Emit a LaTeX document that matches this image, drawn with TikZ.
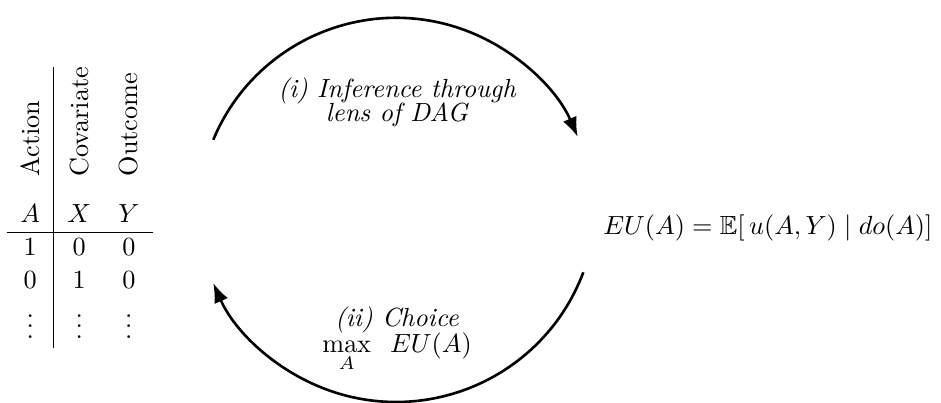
\documentclass[tikz,border=0pt]{standalone}
\usepackage{tikz}
\usepackage{amsmath,amssymb}
\usepackage{graphicx}
\usetikzlibrary{arrows.meta}

\begin{document}
\begin{tikzpicture}[>={Latex},line width=1pt,
        cycle arrow/.style={->,line width=1pt},
        step label/.style={align=center,font=\itshape}]
  \useasboundingbox (0,0) rectangle (12.61,5.40);

  \node (data) at (1.07,2.62) {%
    \setlength{\tabcolsep}{5.2pt}%
    \renewcommand{\arraystretch}{1.04}%
    \begin{tabular}{c|cc}
      \rotatebox{90}{Action} & \rotatebox{90}{Covariate} & \rotatebox{90}{Outcome}\\[5pt]
      $A$ & $X$ & $Y$\\ \hline
      1 & 0 & 0\\
      0 & 1 & 0\\
      $\vdots$ & $\vdots$ & $\vdots$
    \end{tabular}};
  \node (eu) at (10.29,2.35) {$EU(A) = \mathbb{E}[\,u(A,Y) \mid do(A)]$};

  \node[step label] (infer) at (5.32,4.03) {(i) Inference through\\[-3pt] lens of DAG};
  \node[align=center] (choice) at (5.32,0.85)
    {\textit{(ii) Choice}\\[-2pt] $\max\limits_A \;\; EU(A)$};

  % the two halves of the loop
  \coordinate (infer start) at (2.858,3.527);
  \coordinate (choice start) at (7.817,1.751);
  \draw[cycle arrow] (infer start) arc[start angle=157.4, end angle=23.5, radius=2.654];
  \draw[cycle arrow] (choice start) arc[start angle=-20.6, end angle=-156.1, radius=2.681];
\end{tikzpicture}
\end{document}
